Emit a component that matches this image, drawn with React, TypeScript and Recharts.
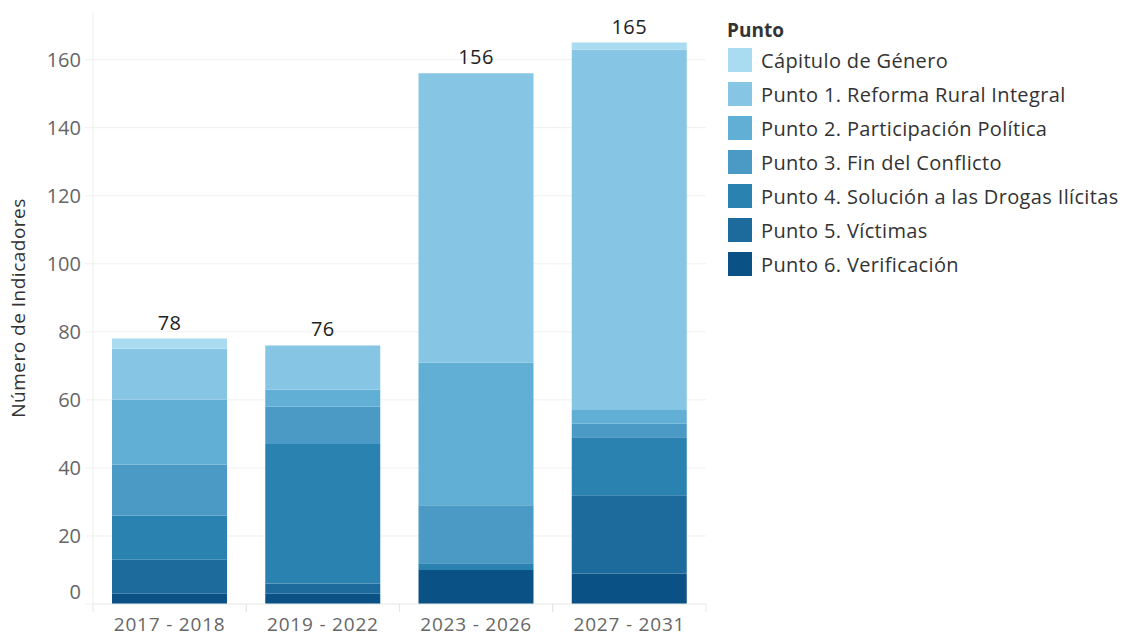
import React from "react";
import { BarChart, Bar, XAxis, YAxis, CartesianGrid, Legend, LabelList } from "recharts";

const CATEGORIES = ["2017 - 2018", "2019 - 2022", "2023 - 2026", "2027 - 2031"];
const genero = [3, 0, 0, 2];
const punto1 = [15, 13, 85, 106];
const punto2 = [19, 5, 42, 4];
const punto3 = [15, 11, 17, 4];
const punto4 = [13, 41, 2, 17];
const punto5 = [10, 3, 0, 23];
const punto6 = [3, 3, 10, 9];
const Y_TICKS = [0, 20, 40, 60, 80, 100, 120, 140, 160];

// bottom to top
const SERIES = [
  { key: "p6", name: "Punto 6. Verificación", values: punto6, color: "#0a5286" },
  { key: "p5", name: "Punto 5. Víctimas", values: punto5, color: "#1c6b9c" },
  { key: "p4", name: "Punto 4. Solución a las Drogas Ilícitas", values: punto4, color: "#2a82b1" },
  { key: "p3", name: "Punto 3. Fin del Conflicto", values: punto3, color: "#4a9ac5" },
  { key: "p2", name: "Punto 2. Participación Política", values: punto2, color: "#62afd6" },
  { key: "p1", name: "Punto 1. Reforma Rural Integral", values: punto1, color: "#86c6e4" },
  { key: "gen", name: "Cápitulo de Género", values: genero, color: "#a9dcf1" },
];

const data = CATEGORIES.map((cat, i) => {
  const row: Record<string, string | number> = { cat };
  let total = 0;
  let top = "";
  SERIES.forEach((s) => {
    row[s.key] = s.values[i];
    total += s.values[i];
    if (s.values[i] > 0) top = s.key;
  });
  row.total = total;
  row.top = top;
  return row;
});

const FONT = "'Open Sans', sans-serif";

function YTick(props: any) {
  const { x, y, payload } = props;
  const shift = payload.value === 0 ? -13 : 0;
  return (
    <text x={x} y={y + shift} textAnchor="end" dominantBaseline="central" fill="#666" fontSize={20} fontFamily={FONT}>
      {payload.value}
    </text>
  );
}

function XTick(props: any) {
  const { x, y, payload } = props;
  const half = 76.6;
  return (
    <g>
      <line x1={x - half} x2={x - half} y1={y} y2={y + 8} stroke="#e6e6e6" />
      <line x1={x + half} x2={x + half} y1={y} y2={y + 8} stroke="#e6e6e6" />
      <text
        x={x}
        y={y + 20}
        textAnchor="middle"
        dominantBaseline="central"
        fill="#666"
        fontSize={19}
        letterSpacing={0.8}
        fontFamily={FONT}
      >
        {payload.value}
      </text>
    </g>
  );
}

function makeTotalLabel(key: string) {
  return function TotalLabel(props: any) {
    const { x, y, width, value } = props;
    const row = data.find((r) => r.cat === value);
    if (!row || row.top !== key) return null;
    return (
      <text x={x + width / 2} y={y - 9} textAnchor="middle" fill="#222" fontSize={20} fontFamily={FONT} letterSpacing={0.4}>
        {row.total}
      </text>
    );
  };
}

function LegendBox() {
  const items = [...SERIES].reverse();
  return (
    <div style={{ fontFamily: FONT, color: "#333" }}>
      <div style={{ fontWeight: 700, fontSize: 19, height: 26, lineHeight: "26px", marginLeft: -1 }}>Punto</div>
      {items.map((s) => (
        <div key={s.key} style={{ display: "flex", alignItems: "center", height: 34 }}>
          <div style={{ width: 24, height: 24, background: s.color, marginRight: 9 }} />
          <span style={{ fontSize: 20, color: "#333", whiteSpace: "nowrap", letterSpacing: 0.35 }}>{s.name}</span>
        </div>
      ))}
    </div>
  );
}

export default function App() {
  return (
    <div style={{ position: "absolute", left: 0, top: 0, width: 1125, height: 637, background: "#fff" }}>
      <BarChart
        width={1125}
        height={637}
        data={data}
        margin={{ top: 12, right: 419, left: 0, bottom: 0 }}
        barSize={115}
      >
        <CartesianGrid vertical={false} horizontal stroke="#f0f0f0" horizontalValues={Y_TICKS.slice(1)} />
        <XAxis
          dataKey="cat"
          height={33}
          tickLine={false}
          tickSize={0}
          tickMargin={0}
          axisLine={{ stroke: "#e6e6e6" }}
          tick={<XTick />}
          interval={0}
        />
        <YAxis
          width={93}
          domain={[0, 174]}
          ticks={Y_TICKS}
          allowDataOverflow
          tickSize={8}
          tickMargin={4}
          tickLine={{ stroke: "#f0f0f0" }}
          axisLine={{ stroke: "#eeeeee" }}
          tick={<YTick />}
          label={{
            value: "Número de Indicadores",
            angle: -90,
            position: "insideLeft",
            offset: 18,
            style: { textAnchor: "middle", fill: "#333", fontSize: 19, fontFamily: FONT, letterSpacing: 0.5 },
          }}
        />
        {SERIES.map((s) => (
          <Bar key={s.key} dataKey={s.key} name={s.name} stackId="a" fill={s.color} isAnimationActive={false}>
            <LabelList dataKey="cat" content={makeTotalLabel(s.key)} />
          </Bar>
        ))}
        <Legend
          layout="vertical"
          align="center"
          verticalAlign="middle"
          wrapperStyle={{ left: 728, top: 17, width: 395 }}
          content={<LegendBox />}
        />
      </BarChart>
    </div>
  );
}
